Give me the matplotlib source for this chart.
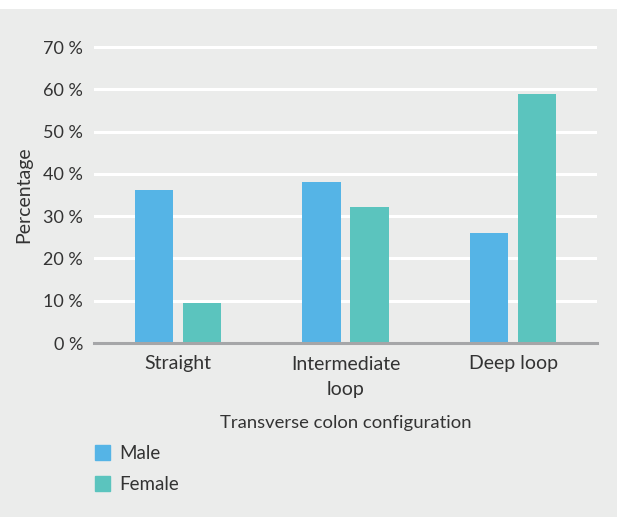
import numpy as np
import matplotlib.pyplot as plt
from matplotlib.patches import Patch

categories = ['Straight', 'Intermediate\nloop', 'Deep loop']
male = [36.2, 38.1, 26.0]
female = [9.5, 32.2, 58.8]
yticks = [0, 10, 20, 30, 40, 50, 60, 70]

bg = '#EBECEB'
male_color = '#55B4E6'
female_color = '#5BC4BE'
text_color = '#333333'

plt.rcParams['font.family'] = ['Lato', 'DejaVu Sans']

fig = plt.figure(figsize=(6.17, 5.17), dpi=100, facecolor='white')
fig.patches.append(plt.Rectangle((0, 0), 1, 508 / 517, transform=fig.transFigure,
                                 facecolor=bg, edgecolor='none', zorder=-10))

ax = fig.add_axes([94 / 617, 1 - 343 / 517, 503 / 617, (343 - 34) / 517])
ax.set_facecolor(bg)

x = np.arange(len(categories))
w = 0.227
ax.bar(x - 0.143, male, w, color=male_color, label='Male', zorder=3)
ax.bar(x + 0.143, female, w, color=female_color, label='Female', zorder=3)

ax.set_xlim(-0.5, 2.5)
ax.set_ylim(0, 73.1)
ax.set_yticks(yticks)
ax.set_yticklabels([f'{t} %' for t in yticks], fontsize=13)
ax.set_xticks(x)
ax.set_xticklabels(categories, linespacing=1.6, fontsize=14)
ax.grid(axis='y', color='white', linewidth=2.2, zorder=1)
ax.tick_params(length=0, colors=text_color, pad=8)
ax.tick_params(axis='x', pad=9)

for s in ['top', 'right', 'left']:
    ax.spines[s].set_visible(False)
ax.spines['bottom'].set_color('#A5A6A8')
ax.spines['bottom'].set_linewidth(2.2)
ax.spines['bottom'].set_zorder(4)

ax.set_ylabel('Percentage', fontsize=14, color=text_color, va='center')
ax.yaxis.set_label_coords((24 - 94) / 503, 0.479)
ax.set_xlabel('Transverse colon configuration', fontsize=13.3, color=text_color, labelpad=12)

handles = [Patch(color=male_color, label='Male'), Patch(color=female_color, label='Female')]
fig.legend(handles=handles, loc='upper left', bbox_to_anchor=(78 / 617, 1 - 428 / 517),
           frameon=False, fontsize=13.5, handlelength=0.8, handleheight=0.8,
           handletextpad=0.5, labelspacing=0.75, labelcolor=text_color)

fig.savefig('out.png', dpi=100, facecolor=fig.get_facecolor())
